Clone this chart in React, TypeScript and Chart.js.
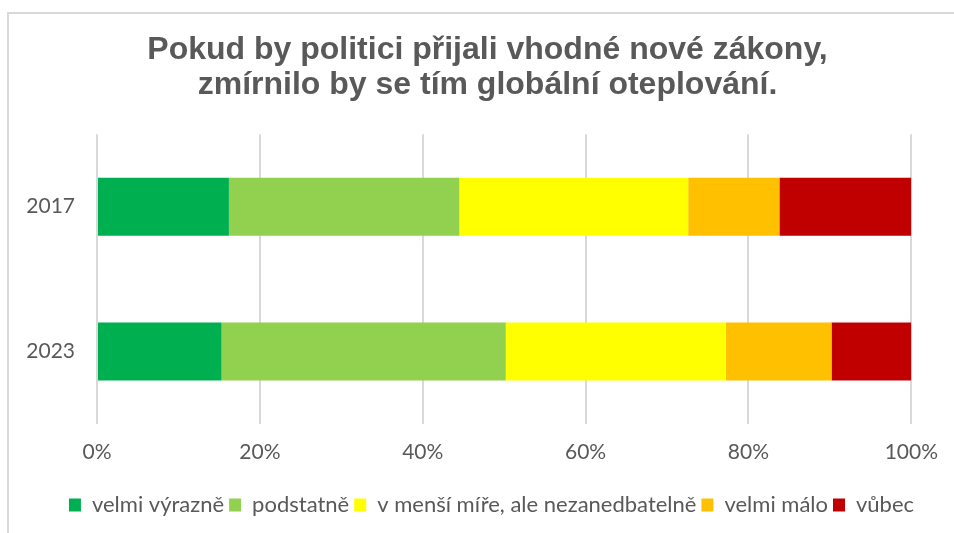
import React, { useEffect, useRef } from 'react';
import { Chart, registerables } from 'chart.js';

Chart.register(...registerables);

const categories = ['2017', '2023'];
const seriesNames = [
  'velmi výrazně',
  'podstatně',
  'v menší míře, ale nezanedbatelně',
  'velmi málo',
  'vůbec',
];
const velmiVyrazne = [16.2, 15.3];
const podstatne = [28.3, 34.9];
const vMensiMire = [28.1, 27.0];
const velmiMalo = [11.2, 13.0];
const vubec = [16.2, 9.8];
const seriesColors = ['#00B050', '#92D050', '#FFFF00', '#FFC000', '#C00000'];
const titleLines = [
  'Pokud by politici přijali vhodné nové zákony,',
  'zmírnilo by se tím globální oteplování.',
];
const xMin = 0;
const xMax = 100;
const xStep = 20;

const TEXT = '#595959';
const TICK_FONT = { family: 'Lato, "Open Sans", sans-serif', size: 21 };
const LEGEND_FONT = { family: 'Lato, "Open Sans", sans-serif', size: 22 };

// Shifts the title and legend boxes horizontally so that they are centred
// like in the reference (which centres them off the plot area).
const centerShiftPlugin = {
  id: 'centerShift',
  afterLayout(chart: any) {
    const t = chart.titleBlock;
    if (t) {
      t.left += 21;
      t.right += 21;
    }
    const l = chart.legend;
    if (l) {
      l.left += 25;
      l.right += 25;
    }
  },
};

export default function App() {
  const ref = useRef<HTMLCanvasElement | null>(null);

  useEffect(() => {
    if (!ref.current) return;
    const values = [velmiVyrazne, podstatne, vMensiMire, velmiMalo, vubec];
    const chart = new Chart(ref.current, {
      type: 'bar',
      data: {
        labels: categories,
        datasets: seriesNames.map((name, i) => ({
          label: name,
          data: values[i],
          backgroundColor: seriesColors[i],
          borderWidth: 0,
          categoryPercentage: 0.8,
          barPercentage: 0.5,
        })),
      },
      plugins: [centerShiftPlugin],
      options: {
        indexAxis: 'y',
        responsive: false,
        animation: false,
        layout: { padding: { left: 20, right: 41, top: 0, bottom: 7 } },
        plugins: {
          title: {
            display: true,
            text: titleLines,
            color: TEXT,
            font: { family: '"Liberation Sans", Arial, sans-serif', size: 32, weight: 'bold', lineHeight: 1.094 },
            padding: { top: 32.5, bottom: 31.75 },
          },
          legend: {
            position: 'bottom',
            labels: {
              boxWidth: 12,
              boxHeight: 13,
              padding: 5,
              color: TEXT,
              font: LEGEND_FONT,
            },
          },
          tooltip: { enabled: false },
        },
        scales: {
          x: {
            stacked: true,
            min: xMin,
            max: xMax,
            ticks: {
              stepSize: xStep,
              callback: (v: any) => v + '%',
              color: TEXT,
              font: TICK_FONT,
              padding: 16,
            },
            grid: { color: '#d9d9d9', lineWidth: 2, drawTicks: false },
            border: { display: false },
            afterFit: (s: any) => {
              s.height = 65;
            },
          },
          y: {
            stacked: true,
            grid: { display: false, drawTicks: false },
            border: { display: false },
            ticks: { padding: 22, color: TEXT, font: TICK_FONT },
            afterFit: (s: any) => {
              s.width = 77;
            },
          },
        },
      },
    });
    return () => chart.destroy();
  }, []);

  return (
    <div style={{ position: 'absolute', left: 0, top: 0, width: 954, height: 533, overflow: 'hidden', background: '#fff' }}>
      <div
        style={{
          position: 'absolute',
          left: 7,
          top: 12,
          width: 1000,
          height: 600,
          borderTop: '2px solid #d9d9d9',
          borderLeft: '2px solid #d9d9d9',
        }}
      />
      <canvas ref={ref} width={954} height={533} style={{ position: 'absolute', left: 0, top: 0 }} />
    </div>
  );
}
